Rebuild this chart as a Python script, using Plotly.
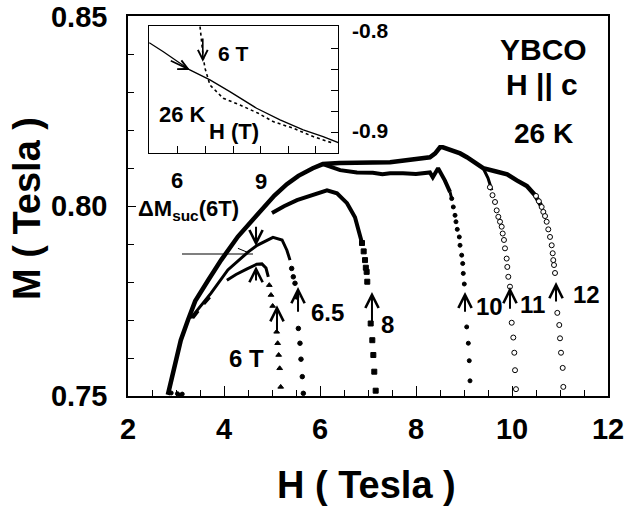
import plotly.graph_objects as go

# ---------------- data ----------------
# main envelope (upper branch, continues into 12 T curve)
env_x = [2.83, 2.98, 3.10, 3.25, 3.40, 3.67, 3.94, 4.29, 4.54, 4.81, 5.05, 5.31, 5.55, 5.85, 6.06,
         6.40, 6.77, 7.10, 7.46, 7.81, 8.10, 8.29, 8.40, 8.50, 8.56, 8.75, 8.92, 9.06, 9.23, 9.40,
         9.65, 9.90, 10.10, 10.31, 10.48, 10.60]
env_y = [0.7503, 0.7587, 0.7647, 0.7700, 0.7750, 0.7805, 0.7858, 0.7920, 0.7955, 0.7995, 0.8028,
         0.8058, 0.8080, 0.8100, 0.8111, 0.8114, 0.8116, 0.8115, 0.8116, 0.8121, 0.8124, 0.8129,
         0.8139, 0.8155, 0.8155, 0.8147, 0.8139, 0.8129, 0.8116, 0.8100, 0.8092, 0.8084, 0.8068,
         0.8053, 0.8029, 0.8003]

# lower branch (10 T)
low_x = [6.06, 6.42, 6.77, 7.10, 7.30, 7.46, 7.73, 8.00, 8.29, 8.35, 8.46, 8.60, 8.71]
low_y = [0.8111, 0.8095, 0.8089, 0.8088, 0.8084, 0.8087, 0.8087, 0.8085, 0.8089, 0.8076, 0.8100, 0.8068, 0.8037]
t10_x = [8.744, 8.777, 8.813, 8.833, 8.860, 8.902, 8.917, 8.952, 8.973, 8.985, 9.006, 9.056, 9.090, 9.110, 9.125]
t10_y = [0.8020, 0.7998, 0.7976, 0.7959, 0.7939, 0.7919, 0.7897, 0.7871, 0.7849, 0.7823, 0.7795,
         0.7682, 0.7639, 0.7593, 0.7540]

# 11 T
d11_x = [9.40, 9.50, 9.58]
d11_y = [0.8100, 0.8074, 0.8042]
t11_x = [9.54, 9.594, 9.646, 9.681, 9.715, 9.75, 9.785, 9.806, 9.833, 9.854, 9.889, 9.902, 9.923,
         9.958, 9.994, 10.027, 10.048, 10.063, 10.083]
t11_y = [0.8050, 0.8029, 0.8011, 0.7989, 0.7972, 0.7959, 0.7946, 0.7928, 0.7911, 0.7889, 0.7862,
         0.7840, 0.7814, 0.7788, 0.7693, 0.7654, 0.7614, 0.7568, 0.7518]

# 12 T
t12_x = [10.50, 10.56, 10.618, 10.652, 10.688, 10.722, 10.756, 10.792, 10.827, 10.848, 10.860,
         10.875, 10.896, 10.944, 10.985, 11.0, 11.021, 11.056, 11.069]
t12_y = [0.8027, 0.8013, 0.7998, 0.7985, 0.7974, 0.7959, 0.7939, 0.7919, 0.7897, 0.7876, 0.7858,
         0.7845, 0.7824, 0.7719, 0.7687, 0.7652, 0.7614, 0.7574, 0.7524]

# 8 T
d8_x = [5.0, 5.25, 5.52, 5.85, 6.146, 6.354, 6.563, 6.729, 6.792, 6.875]
d8_y = [0.7982, 0.8000, 0.8016, 0.8030, 0.8042, 0.8034, 0.8008, 0.7971, 0.7945, 0.7903]
t8_x = [6.875, 6.91, 6.938, 6.955, 6.972, 6.985, 7.056, 7.090, 7.111, 7.131, 7.160]
t8_y = [0.7903, 0.7881, 0.7858, 0.7838, 0.7827, 0.7801, 0.7691, 0.7647, 0.7608, 0.7564, 0.7514]

# 6.5 T
d65_x = [3.31, 3.73, 4.08, 4.50, 4.69, 5.02, 5.21, 5.31, 5.375]
d65_y = [0.7705, 0.7771, 0.7832, 0.7879, 0.7897, 0.7918, 0.7911, 0.7884, 0.7858]
t65_x = [5.41, 5.444, 5.479, 5.514, 5.549, 5.583, 5.604, 5.631, 5.653]
t65_y = [0.7836, 0.7814, 0.7797, 0.7761, 0.7678, 0.7639, 0.7597, 0.7551, 0.7507]

# 6 T
d6_x = [4.06, 4.25, 4.47, 4.68, 4.79, 4.875, 4.923]
d6_y = [0.7805, 0.7820, 0.7834, 0.7847, 0.7848, 0.7837, 0.7814]
t6_x = [4.944, 4.979, 5.014, 5.097, 5.118, 5.139, 5.160, 5.181]
t6_y = [0.7792, 0.7766, 0.7737, 0.7669, 0.7639, 0.7608, 0.7573, 0.7524]

dash_x = [3.35, 3.53, 3.71]
dash_y = [0.7705, 0.7735, 0.7761]
hline_x = [3.125, 4.604]
hline_y = [0.7874, 0.7874]
tick_x = [4.29, 4.48]
tick_y = [0.7889, 0.7879]
stray_x = [2.90, 3.03, 3.08, 3.13]
stray_y = [0.7508, 0.7506, 0.7502, 0.7505]

# inset
ins_solid_x = [4.96, 5.47, 6.43, 7.16, 7.88, 8.85, 9.70, 10.54, 11.26, 11.81]
ins_solid_y = [-0.8149, -0.8235, -0.8408, -0.8503, -0.8614, -0.8772, -0.8883, -0.8978, -0.9041, -0.9099]
ins_dot_x = [6.80, 6.86, 6.92, 6.98, 7.16, 7.64, 8.25, 8.91, 9.45, 10.18, 10.90, 11.63]
ins_dot_y = [-0.7997, -0.8155, -0.8297, -0.8392, -0.8551, -0.8677, -0.8741, -0.8820, -0.8899,
             -0.8962, -0.9041, -0.9105]

x_ticks = [2, 4, 6, 8, 10, 12]
y_ticks = [0.75, 0.80, 0.85]
ins_x_ticks = [6, 7, 8, 9, 10, 11]
ins_y_ticks = [-0.90, -0.88, -0.86, -0.84, -0.82, -0.80]

# ---------------- figure ----------------
FONT = "Liberation Sans"
K = "black"
fig = go.Figure()

def line(x, y, w, dash="solid", xa="x", ya="y"):
    fig.add_trace(go.Scatter(x=x, y=y, mode="lines", line=dict(color=K, width=w, dash=dash),
                             xaxis=xa, yaxis=ya, showlegend=False, hoverinfo="skip"))

def marks(x, y, sym, size, open_=False):
    m = dict(symbol=sym, size=size, color="white" if open_ else K, line=dict(color=K, width=1))
    fig.add_trace(go.Scatter(x=x, y=y, mode="markers", marker=m, showlegend=False, hoverinfo="skip"))

line(env_x, env_y, 4.5)
line(low_x, low_y, 4)
line(low_x[-1:] + t10_x[:1], low_y[-1:] + t10_y[:1], 3)
marks(t10_x, t10_y, "circle", 4)
line(d11_x, d11_y, 3)
marks(t11_x, t11_y, "circle", 5, open_=True)
marks(t12_x, t12_y, "circle", 5, open_=True)
line(d8_x, d8_y, 4)
marks(t8_x, t8_y, "square", 5)
line(d65_x, d65_y, 3)
marks(t65_x, t65_y, "circle", 4.5)
line(d6_x, d6_y, 3)
marks(t6_x, t6_y, "triangle-up", 5)
line(dash_x, dash_y, 3, dash="dash")
line(hline_x, hline_y, 1.2)
line(tick_x, tick_y, 1)
marks(stray_x, stray_y, "circle", 4)

line(ins_solid_x, ins_solid_y, 1.3, xa="x2", ya="y2")
line(ins_dot_x, ins_dot_y, 1.6, dash="dot", xa="x2", ya="y2")

anns = []

def txt(s, px, py, size, **kw):
    anns.append(dict(text=s, x=(px - 128) / 480, y=(396 - py) / 380, xref="paper", yref="paper",
                     showarrow=False, xanchor="center", yanchor="middle",
                     font=dict(family=FONT, size=size, color=K, weight="bold"), **kw))

def arrow(x, y, ax, ay, xr="x", yr="y", w=2, size=1.3):
    anns.append(dict(text="", x=x, y=y, ax=ax, ay=ay, xref=xr, yref=yr, axref=xr, ayref=yr,
                     showarrow=True, arrowhead=5, arrowsize=size, arrowwidth=w, arrowcolor=K))

# axis titles
txt("H ( Tesla )", 366, 485, 38)
txt("M ( Tesla )", 27, 209, 38, textangle=-90)
# main labels
txt("6 T", 246, 358, 24)
txt("6.5", 327, 312, 24)
txt("8", 387, 324, 24)
txt("10", 489, 306, 24)
txt("11", 532, 304, 24)
txt("12", 586, 294, 24)
txt("6", 177, 180, 22)
txt("9", 261, 181, 22)
txt("ΔM<sub>suc</sub>(6T)", 188, 210, 22)
txt("YBCO", 543, 50, 30)
txt("H || c", 542, 84, 30)
txt("26 K", 543, 133, 28)
# inset labels
txt("-0.8", 370, 30, 21)
txt("-0.9", 370, 130, 21)
txt("6 T", 233, 54, 21)
txt("26 K", 182, 114, 22)
txt("H (T)", 234, 131, 22)

# arrows (data coords)
arrow(4.667, 0.7895, 4.667, 0.7950)
arrow(4.667, 0.7842, 4.667, 0.7800)
arrow(5.104, 0.7739, 5.104, 0.7668)
arrow(5.542, 0.7787, 5.542, 0.7718)
arrow(7.083, 0.7774, 7.083, 0.7692)
arrow(9.021, 0.7774, 9.021, 0.7718)
arrow(9.958, 0.7787, 9.958, 0.7726)
arrow(10.917, 0.7800, 10.917, 0.7745)
# inset arrows
arrow(6.90, -0.8330, 6.90, -0.8095, xr="x2", yr="y2", w=1.6, size=1.2)
arrow(6.435, -0.8408, 5.685, -0.8313, xr="x2", yr="y2", w=1.6, size=1.2)

fig.update_layout(
    width=626, height=512,
    margin=dict(l=128, r=18, t=16, b=116),
    paper_bgcolor="white", plot_bgcolor="white",
    showlegend=False,
    annotations=anns,
    xaxis=dict(range=[2, 12], tickvals=x_ticks, ticks="inside", ticklen=10, tickwidth=1.2,
               tickcolor=K, showline=True, mirror=True, linecolor=K, linewidth=1.5,
               showgrid=False, zeroline=False, automargin=False, ticklabelstandoff=6,
               ticklabeloverflow="allow",
               minor=dict(dtick=0.5, tick0=2, ticks="inside", ticklen=6, tickcolor=K, tickwidth=1.2),
               tickfont=dict(family=FONT, size=29, color=K, weight="bold")),
    yaxis=dict(range=[0.75, 0.8501], tickvals=y_ticks, tickformat=".2f", ticks="inside", ticklen=8,
               tickwidth=1.2, tickcolor=K, showline=True, mirror=True, linecolor=K, linewidth=1.5,
               showgrid=False, zeroline=False, automargin=False, ticklabelstandoff=13,
               ticklabeloverflow="allow",
               minor=dict(dtick=0.01, tick0=0.75, ticks="inside", ticklen=6, tickcolor=K, tickwidth=1.2),
               tickfont=dict(family=FONT, size=29, color=K, weight="bold")),
    xaxis2=dict(domain=[0.04375, 0.4375], anchor="y2", range=[4.95, 11.8], tickvals=ins_x_ticks,
                showticklabels=False, ticks="inside", ticklen=7, tickcolor=K, tickwidth=1,
                showline=True, mirror=True, linecolor=K, linewidth=1.2, showgrid=False,
                zeroline=False),
    yaxis2=dict(domain=[0.6395, 0.9737], anchor="x2", side="right", range=[-0.9197, -0.79905],
                tickvals=ins_y_ticks, showticklabels=False, ticks="inside", ticklen=7,
                tickcolor=K, tickwidth=1, showline=True, mirror=True, linecolor=K, linewidth=1.2,
                showgrid=False, zeroline=False),
)

fig.write_html("out.html", config={"displayModeBar": False},
               post_script="document.body.style.margin='0px';")
